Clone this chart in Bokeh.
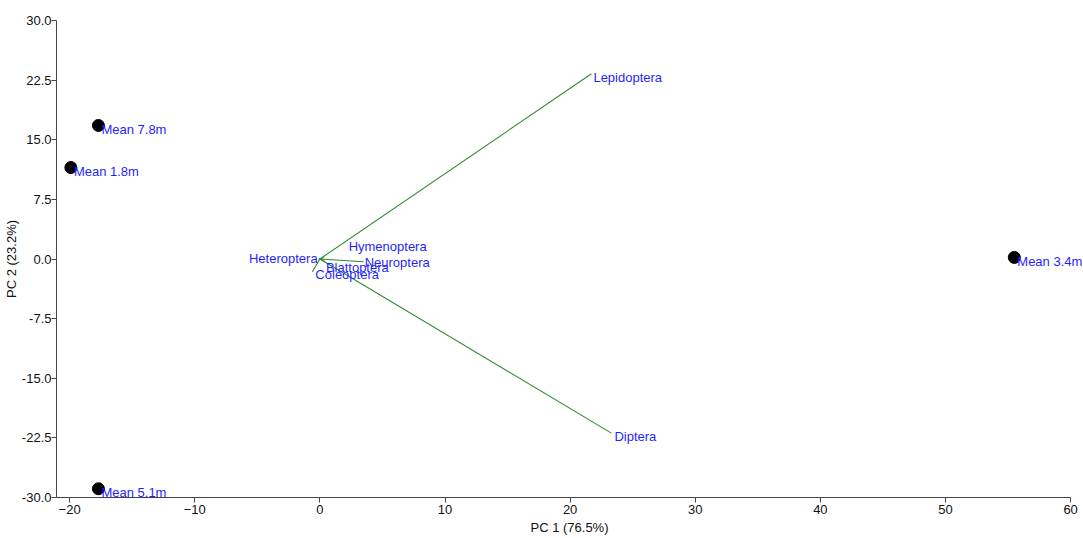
from bokeh.plotting import figure
from bokeh.models import Range1d, FixedTicker, PrintfTickFormatter, ColumnDataSource
from bokeh.core.properties import value
from bokeh.embed import file_html
from bokeh.resources import INLINE

# Sample scores
sample_names = ["Mean 7.8m", "Mean 1.8m", "Mean 5.1m", "Mean 3.4m"]
sample_pc1 = [-17.7, -19.9, -17.7, 55.5]
sample_pc2 = [16.8, 11.5, -28.9, 0.2]

# Variable loadings (vector ends)
var_names = ["Lepidoptera", "Diptera", "Neuroptera", "Coleoptera", "Blattoptera", "Hymenoptera", "Heteroptera"]
var_pc1 = [21.7, 23.3, 3.5, -0.6, 0.4, 0.3, -0.1]
var_pc2 = [23.3, -21.9, -0.35, -1.6, -0.3, 0.2, 0.05]

x_ticks = [-20, -10, 0, 10, 20, 30, 40, 50, 60]
y_ticks = [-30.0, -22.5, -15.0, -7.5, 0.0, 7.5, 15.0, 22.5, 30.0]
x_axis_end = 60

FONT = "Liberation Sans"
LABEL_BLUE = "#1f1fff"
GREEN = "#2e8b2e"

p = figure(frame_width=1026, frame_height=477, output_backend="svg", toolbar_location=None,
           x_range=Range1d(-21.05, 60.95), y_range=Range1d(-30, 30),
           min_border_left=50, min_border_top=20, min_border_right=0, min_border_bottom=33)
p.outline_line_color = None
p.xgrid.visible = False
p.ygrid.visible = False
p.background_fill_color = "white"
p.border_fill_color = "white"

# vectors
xs = [[0, x] for x in var_pc1]
ys = [[0, y] for y in var_pc2]
p.multi_line(xs, ys, line_color=GREEN, line_width=1.1)

# variable labels (pixel offsets / alignments are styling)
v_align = ["left", "left", "left", "left", "left", "left", "right"]
v_xoff = [2, 3, 1, 3, 1, 25, -1]
v_yoff = [4, 3, 1, 3, 6, -11, 0]
vsrc = ColumnDataSource(dict(x=var_pc1, y=var_pc2, t=var_names, a=v_align, xo=v_xoff, yo=v_yoff))
p.text(x="x", y="y", text="t", source=vsrc, text_align="a", text_baseline="middle",
       x_offset="xo", y_offset="yo", text_color=LABEL_BLUE, text_font=value(FONT),
       text_font_size="13px")

# samples
p.scatter(sample_pc1, sample_pc2, size=12, color="black")
ssrc = ColumnDataSource(dict(x=sample_pc1, y=sample_pc2, t=sample_names))
p.text(x="x", y="y", text="t", source=ssrc, text_align="left", text_baseline="middle",
       x_offset=3, y_offset=4, text_color=LABEL_BLUE, text_font=value(FONT),
       text_font_size="13px")

for ax in (p.xaxis[0], p.yaxis[0]):
    ax.axis_line_color = "#444444"
    ax.major_tick_line_color = "#444444"
    ax.minor_tick_line_color = None
    ax.major_tick_out = 5
    ax.major_tick_in = 0
    ax.major_label_text_font = FONT
    ax.major_label_text_font_size = "13px"
    ax.major_label_text_color = "#111111"
    ax.axis_label_text_font = FONT
    ax.axis_label_text_font_size = "13px"
    ax.axis_label_text_font_style = "normal"
    ax.axis_label_text_color = "#111111"

p.xaxis.bounds = (-21.05, x_axis_end)
p.xaxis.major_label_standoff = 2
p.yaxis.major_label_standoff = 0
p.xaxis.ticker = FixedTicker(ticks=x_ticks)
p.yaxis.ticker = FixedTicker(ticks=y_ticks)
p.yaxis.formatter = PrintfTickFormatter(format="%.1f")
p.xaxis.axis_label = "PC 1 (76.5%)"
p.yaxis.axis_label = "PC 2 (23.2%)"
p.xaxis.axis_label_standoff = 3
p.yaxis.axis_label_standoff = 0

open("out.html", "w").write(file_html(p, INLINE))
